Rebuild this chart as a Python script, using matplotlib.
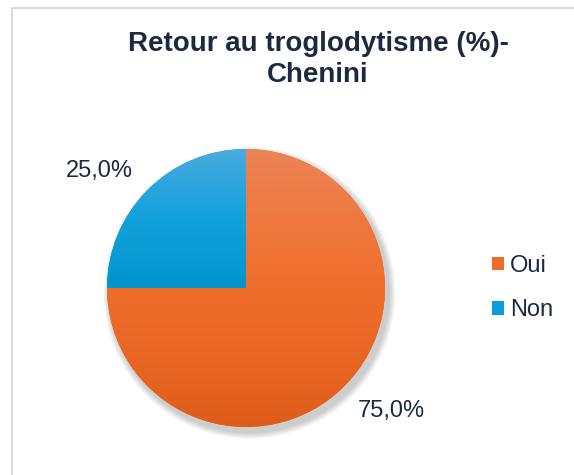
import numpy as np
import matplotlib.pyplot as plt
from matplotlib.colors import LinearSegmentedColormap
from matplotlib.patches import Patch, Circle, Rectangle

labels = ['Oui', 'Non']
values = [75.0, 25.0]
pct_text = ['75,0%', '25,0%']

# gradient stops per slice (top -> bottom)
grad = {
    'Oui': ['#EC8455', '#F06E2B', '#E05C1A'],
    'Non': ['#4AABDF', '#12A1DB', '#0095CE'],
}
solid = ['#EE6C28', '#0A9ED8']
txt_col = '#1B2A41'

plt.rcParams['font.family'] = ['Liberation Sans', 'DejaVu Sans']

fig = plt.figure(figsize=(5.74, 4.75), dpi=100)
W, H = 574, 475

# light gray frame of the chart area
fig.patches.append(Rectangle((12 / W, -0.1), 1.2, 1 - 7.5 / H + 0.1, transform=fig.transFigure,
                             fill=False, edgecolor='#D9D9D9', linewidth=1.4))

# pie axes: center at (246, 288) px, radius 139 px
r = 139
half = 1.2 * r
ax = fig.add_axes([(246 - half) / W, (H - 288 - half) / H, 2 * half / W, 2 * half / H])
ax.set_xlim(-1.2, 1.2)
ax.set_ylim(-1.2, 1.2)
ax.set_aspect('equal')
ax.axis('off')

# soft shadow
for i in range(4):
    ax.add_patch(Circle((0.025, -0.035), 1.0 + 0.012 * (4 - i), color='black', alpha=0.05,
                        linewidth=0, zorder=0))

wedges, _ = ax.pie(values, colors=solid, startangle=90, counterclock=False,
                   radius=1.0, wedgeprops=dict(linewidth=0))

for w, lab in zip(wedges, labels):
    w.set_zorder(1)
    ext = w.get_path().get_extents(w.get_transform() - ax.transData)
    cmap = LinearSegmentedColormap.from_list(lab, grad[lab])
    g = np.linspace(0, 1, 256).reshape(-1, 1)
    im = ax.imshow(g, cmap=cmap, aspect='auto', origin='upper',
                   extent=(ext.x0, ext.x1, ext.y0, ext.y1), zorder=2)
    im.set_clip_path(w)

ax.set_xlim(-1.2, 1.2)
ax.set_ylim(-1.2, 1.2)

# data labels
ax.text(1.047, -0.928, pct_text[0], ha='center', va='baseline', fontsize=17, color=txt_col)
ax.text(-1.054, 0.799, pct_text[1], ha='center', va='baseline', fontsize=17, color=txt_col)

fig.text(318 / W, 1 - 51 / H, 'Retour au troglodytisme (%)-', ha='center', va='baseline',
         fontsize=20, fontweight='bold', color=txt_col)
fig.text(318 / W, 1 - 82 / H, 'Chenini', ha='center', va='baseline',
         fontsize=20, fontweight='bold', color=txt_col)

handles = [Patch(facecolor=c, edgecolor='none') for c in solid]
fig.legend(handles, labels, loc='center left', bbox_to_anchor=(492 / W, 1 - 288 / H),
           frameon=False, fontsize=17, handlelength=0.5, handleheight=0.5,
           handletextpad=0.26, labelspacing=0.95, borderpad=0, borderaxespad=0,
           labelcolor=txt_col)

fig.savefig('out.png', dpi=100)
